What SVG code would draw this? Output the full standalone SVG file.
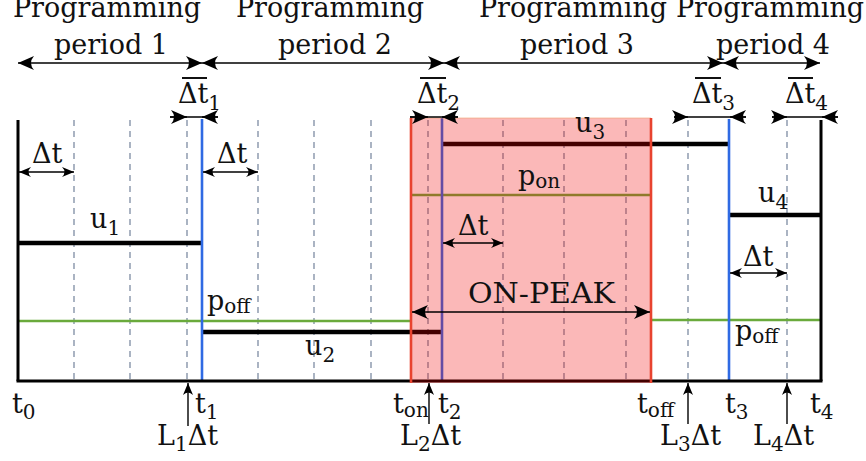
<svg xmlns="http://www.w3.org/2000/svg" width="866" height="461" viewBox="0 0 866 461">
<style>
text{font-family:"DejaVu Serif","Liberation Serif",serif;font-size:27px;fill:#111}
.s{font-size:20px}
.grid{stroke:#7d8ca3;stroke-width:1.3;stroke-dasharray:6 5;fill:none}
.green{stroke:#6aaa3c;stroke-width:2.6;fill:none}
.u{stroke:#000;stroke-width:4.5;fill:none}
.blue{stroke:#2f6ae3;stroke-width:2.6;fill:none}
.axis{stroke:#000;stroke-width:3;fill:none}
.red{stroke:#e8432f;stroke-width:2.6;fill:none}
.ar{stroke:#000;stroke-width:1.4;fill:none}
.bar{stroke:#111;stroke-width:2;fill:none}
</style>
<defs>
<marker id="big" viewBox="-16 -7 17 14" refX="0" refY="0" markerWidth="17" markerHeight="14" orient="auto-start-reverse" markerUnits="userSpaceOnUse"><path d="M0,0 L-16,-7 Q-10,0 -16,7 Z" fill="#000"/></marker>
<marker id="sm" viewBox="-12 -5 13 10" refX="0" refY="0" markerWidth="13" markerHeight="10" orient="auto-start-reverse" markerUnits="userSpaceOnUse"><path d="M0,0 L-12,-5 Q-7,0 -12,5 Z" fill="#000"/></marker>
</defs>

<g id="grid">
<line class="grid" x1="74" y1="120" x2="74" y2="380"/>
<line class="grid" x1="130" y1="120" x2="130" y2="380"/>
<line class="grid" x1="187" y1="120" x2="187" y2="380"/>
<line class="grid" x1="258" y1="120" x2="258" y2="380"/>
<line class="grid" x1="314" y1="120" x2="314" y2="380"/>
<line class="grid" x1="371" y1="120" x2="371" y2="380"/>
<line class="grid" x1="428" y1="120" x2="428" y2="380"/>
<line class="grid" x1="503" y1="120" x2="503" y2="380"/>
<line class="grid" x1="564" y1="120" x2="564" y2="380"/>
<line class="grid" x1="626" y1="120" x2="626" y2="380"/>
<line class="grid" x1="688" y1="120" x2="688" y2="380"/>
<line class="grid" x1="787" y1="120" x2="787" y2="380"/>
</g>

<g id="price-lines">
<line class="green" x1="18" y1="321" x2="411" y2="321"/>
<line class="green" x1="651" y1="320" x2="821" y2="320"/>
<line class="green" x1="411" y1="195" x2="651" y2="195"/>
</g>

<g id="u-lines">
<line class="u" x1="18" y1="243" x2="202" y2="243"/>
<line class="u" x1="202" y1="332" x2="442" y2="332"/>
<line class="u" x1="442" y1="144" x2="729" y2="144"/>
<line class="u" x1="729" y1="215" x2="821" y2="215"/>
</g>

<g id="boundaries">
<line class="blue" x1="202" y1="119" x2="202" y2="381"/>
<line class="blue" x1="442" y1="118" x2="442" y2="381"/>
<line class="blue" x1="729" y1="119" x2="729" y2="381"/>
</g>

<g id="axes">
<line class="axis" x1="18" y1="120" x2="18" y2="381"/>
<line class="axis" x1="16.5" y1="381" x2="822.5" y2="381"/>
<line class="axis" x1="821" y1="120" x2="821" y2="381"/>
</g>

<g id="on-peak">
<rect x="411" y="118" width="240" height="265" fill="rgb(240,0,0)" fill-opacity="0.28"/>
<line x1="411" y1="118" x2="651" y2="118" stroke="#f0a070" stroke-width="1" stroke-opacity="0.6"/>
<line class="red" x1="411" y1="118" x2="411" y2="383"/>
<line class="red" x1="651" y1="118" x2="651" y2="383"/>
</g>

<g id="connectors">
<line class="ar" x1="18" y1="63" x2="202" y2="63" marker-start="url(#big)" marker-end="url(#big)"/>
<line class="ar" x1="202" y1="63" x2="444" y2="63" marker-start="url(#big)" marker-end="url(#big)"/>
<line class="ar" x1="444" y1="63" x2="723" y2="63" marker-start="url(#big)" marker-end="url(#big)"/>
<line class="ar" x1="723" y1="63" x2="820" y2="63" marker-start="url(#big)" marker-end="url(#big)"/>

<line class="ar" x1="170" y1="117" x2="218" y2="117"/>
<line class="ar" x1="170" y1="117" x2="187" y2="117" marker-end="url(#big)"/>
<line class="ar" x1="218" y1="117" x2="202" y2="117" marker-end="url(#big)"/>
<line class="ar" x1="410" y1="117" x2="458" y2="117"/>
<line class="ar" x1="410" y1="117" x2="428" y2="117" marker-end="url(#big)"/>
<line class="ar" x1="458" y1="117" x2="442" y2="117" marker-end="url(#big)"/>
<line class="ar" x1="674" y1="117" x2="746" y2="117"/>
<line class="ar" x1="674" y1="117" x2="688" y2="117" marker-end="url(#big)"/>
<line class="ar" x1="746" y1="117" x2="730" y2="117" marker-end="url(#big)"/>
<line class="ar" x1="772" y1="117" x2="838" y2="117"/>
<line class="ar" x1="772" y1="117" x2="787" y2="117" marker-end="url(#big)"/>
<line class="ar" x1="838" y1="117" x2="822" y2="117" marker-end="url(#big)"/>

<line class="ar" x1="19" y1="172" x2="74" y2="172" marker-start="url(#sm)" marker-end="url(#sm)"/>
<line class="ar" x1="203" y1="172" x2="258" y2="172" marker-start="url(#sm)" marker-end="url(#sm)"/>
<line class="ar" x1="443" y1="243" x2="503" y2="243" marker-start="url(#sm)" marker-end="url(#sm)"/>
<line class="ar" x1="730" y1="273" x2="787" y2="273" marker-start="url(#sm)" marker-end="url(#sm)"/>

<line class="ar" x1="412" y1="312" x2="650" y2="312" marker-start="url(#big)" marker-end="url(#big)"/>

<line class="ar" x1="188" y1="426" x2="188" y2="383" marker-end="url(#sm)"/>
<line class="ar" x1="429" y1="424" x2="429" y2="383" marker-end="url(#sm)"/>
<line class="ar" x1="688" y1="424" x2="688" y2="383" marker-end="url(#sm)"/>
<line class="ar" x1="787" y1="424" x2="787" y2="383" marker-end="url(#sm)"/>
</g>

<g id="period-labels">
<text x="107" y="17" text-anchor="middle">Programming</text>
<text x="111" y="54" text-anchor="middle">period 1</text>
<text x="330" y="17" text-anchor="middle">Programming</text>
<text x="335" y="54" text-anchor="middle">period 2</text>
<text x="573" y="17" text-anchor="middle">Programming</text>
<text x="577" y="54" text-anchor="middle">period 3</text>
<text x="770" y="17" text-anchor="middle">Programming</text>
<text x="773" y="54" text-anchor="middle">period 4</text>
</g>

<g id="dtbar-labels">
<text x="178" y="103">Δt<tspan class="s" dy="7">1</tspan></text>
<line class="bar" x1="182" y1="78" x2="207" y2="78"/>
<text x="417" y="103">Δt<tspan class="s" dy="7">2</tspan></text>
<line class="bar" x1="420" y1="78" x2="446" y2="78"/>
<text x="692" y="103">Δt<tspan class="s" dy="7">3</tspan></text>
<line class="bar" x1="695" y1="78" x2="721" y2="78"/>
<text x="785" y="103">Δt<tspan class="s" dy="7">4</tspan></text>
<line class="bar" x1="788" y1="78" x2="813" y2="78"/>
</g>

<g id="plot-labels">
<text x="32" y="163">Δt</text>
<text x="217" y="163">Δt</text>
<text x="458" y="235">Δt</text>
<text x="743" y="266">Δt</text>
<text x="90" y="228">u<tspan class="s" dy="7">1</tspan></text>
<text x="305" y="355">u<tspan class="s" dy="7">2</tspan></text>
<text x="575" y="132">u<tspan class="s" dy="7">3</tspan></text>
<text x="758" y="202">u<tspan class="s" dy="7">4</tspan></text>
<text x="518" y="185">p<tspan class="s" dy="3">on</tspan></text>
<text x="207" y="310">p<tspan class="s" dy="3">off</tspan></text>
<text x="735" y="340">p<tspan class="s" dy="3">off</tspan></text>
<text x="468" y="303" textLength="147" lengthAdjust="spacingAndGlyphs">ON-PEAK</text>
</g>

<g id="time-labels">
<text x="12" y="413">t<tspan class="s" dy="6">0</tspan></text>
<text x="195" y="413">t<tspan class="s" dy="6">1</tspan></text>
<text x="393" y="413">t<tspan class="s" dy="4">on</tspan></text>
<text x="438" y="413">t<tspan class="s" dy="6">2</tspan></text>
<text x="637" y="413">t<tspan class="s" dy="4">off</tspan></text>
<text x="725" y="413">t<tspan class="s" dy="6">3</tspan></text>
<text x="810" y="413">t<tspan class="s" dy="6">4</tspan></text>
<text x="157" y="445">L<tspan class="s" dy="6">1</tspan><tspan dy="-6">Δt</tspan></text>
<text x="400" y="445">L<tspan class="s" dy="6">2</tspan><tspan dy="-6">Δt</tspan></text>
<text x="660" y="445">L<tspan class="s" dy="6">3</tspan><tspan dy="-6">Δt</tspan></text>
<text x="753" y="445">L<tspan class="s" dy="6">4</tspan><tspan dy="-6">Δt</tspan></text>
</g>
</svg>
